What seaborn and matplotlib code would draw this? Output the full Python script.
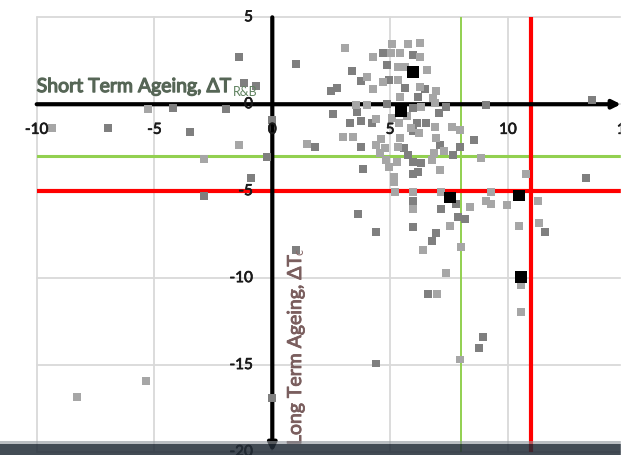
import matplotlib
matplotlib.use("Agg")
import matplotlib.pyplot as plt
import matplotlib.patheffects as pe
from matplotlib.patches import Rectangle
import pandas as pd
import seaborn as sns

# Ageing index pairs (x: short term, y: long term), grouped by marker class
dark_x = [-6.97, -4.21, -3.49, -1.96, -1.41, -1.20, -0.69, 0.0, 1.81, -0.22,
          -0.90, -2.90, 1.01, 0.0, 1.01, 2.49, 2.75, 2.58, 3.38, 3.76,
          4.70, 5.97, 4.87, 4.95, 5.63, 6.48, 6.18, 4.87, 7.37, 9.07,
          13.57, 3.59, 3.30, 3.76, 4.23, 6.14, 6.52, 5.97, 7.07, 5.97,
          3.76, 7.12, 8.56, 7.97, 5.59, 5.76, 3.85, 5.97, 5.97, 6.31,
          7.67, 6.18, 13.31, 7.80, 5.97, 7.16, 3.64, 7.88, 8.18, 11.57,
          4.40, 5.97, 6.95, 6.78, 6.61, 8.94, 8.77, 4.40]
dark_y = [-1.36, -0.21, -1.58, -0.27, 2.71, 1.22, 1.05, -0.90, -2.44, -3.01,
          -4.22, -5.25, -8.39, -16.92, 2.31, 0.76, 0.93, -0.55, 1.91, 1.33,
          2.93, 2.82, 2.25, 1.39, 0.93, 0.88, 0.42, 0.02, -0.15, -0.04,
          0.25, -0.44, -1.07, -0.96, -1.07, -1.07, -1.07, -1.53, -0.50, -0.21,
          -2.44, -2.33, -2.04, -2.44, -2.50, -2.90, -3.70, -3.30, -3.99, -3.36,
          -2.90, -3.87, -4.22, -5.76, -5.59, -6.05, -6.33, -6.50, -6.62, -7.36,
          -7.36, -7.08, -7.42, -7.88, -10.91, -13.37, -14.00, -14.91]

light_x = [-9.35, -5.28, -1.41, 1.47, -2.90, -8.29, -5.36, 3.09, 4.02, 4.27,
           5.08, 5.76, 6.27, 5.04, 5.42, 6.27, 5.34, 5.63, 6.57, 4.70,
           5.34, 4.27, 6.27, 6.95, 5.42, 6.82, 3.55, 4.02, 5.72, 6.31,
           6.91, 5.08, 4.40, 5.38, 5.89, 6.23, 6.91, 7.63, 7.97, 5.42,
           3.43, 2.99, 4.40, 4.61, 4.78, 5.34, 6.95, 7.29, 4.57, 4.83,
           5.29, 4.95, 6.87, 7.12, 6.78, 8.86, 10.77, 5.17, 5.17, 5.21,
           5.97, 7.16, 9.28, 11.28, 9.07, 9.28, 9.96, 8.39, 5.97, 7.54,
           10.47, 11.32, 6.40, 8.01, 7.37, 10.56, 6.99, 10.56, 7.97]
light_y = [-1.36, -0.27, -2.33, -2.27, -3.13, -16.86, -15.94, 3.22, 1.56, 2.71,
           3.45, 3.45, 3.51, 2.93, 2.93, 2.71, 2.13, 2.13, 1.96, 1.28,
           1.39, 0.88, 0.99, 0.76, 0.42, 0.36, -0.04, -0.04, -0.67, -0.15,
           0.07, -0.78, -0.85, -1.07, -1.36, -1.65, -1.30, -1.30, -1.47, -1.93,
           -1.87, -1.87, -2.33, -1.99, -2.50, -2.44, -1.93, -2.67, -2.79, -3.19,
           -3.30, -3.59, -2.79, -3.76, -3.19, -3.07, -4.04, -4.16, -4.50, -5.07,
           -5.02, -5.02, -5.02, -5.54, -5.54, -5.76, -5.82, -5.93, -6.05, -7.02,
           -7.02, -6.85, -8.39, -8.22, -9.71, -10.39, -10.91, -11.93, -14.68]

black_x = [5.97, 5.46, 7.54, 10.47, 10.56]
black_y = [1.85, -0.42, -5.36, -5.25, -9.94]

x_ticks = [-10, -5, 0, 5, 10, 15]
y_ticks = [5, 0, -5, -10, -15, -20]

# threshold lines
green_h, red_h = -3, -5
green_v, red_v = 8, 11

short_label, short_sub = "Short Term Ageing, ΔT", "R&B"
long_label, long_sub = "Long Term Ageing, ΔT", "c"

sns.set_style("white")
plt.rcParams["font.family"] = ["Lato", "DejaVu Sans"]

df = pd.concat([
    pd.DataFrame({"x": dark_x, "y": dark_y, "grp": "dark"}),
    pd.DataFrame({"x": light_x, "y": light_y, "grp": "light"}),
    pd.DataFrame({"x": black_x, "y": black_y, "grp": "black"}),
], ignore_index=True)

fig = plt.figure(figsize=(6.3, 4.56), dpi=100)
ax = fig.add_axes([36.7 / 630, 3 / 456, (625.7 - 36.7) / 630, (453 - 18.3) / 456])
ax.set_xlim(-10, 15)
ax.set_ylim(-20, 5)

for s in ax.spines.values():
    s.set_visible(False)
ax.set_xticks(x_ticks)
ax.set_yticks(y_ticks)
ax.tick_params(length=0, labelbottom=False, labelleft=False)
ax.grid(True, color="#d9d9d9", lw=1.3, zorder=0)
for gl in ax.get_xgridlines() + ax.get_ygridlines():
    gl.set_clip_on(False)
ax.set_axisbelow(True)

ax.axhline(green_h, color="#92d050", lw=2.2, zorder=2)
ax.axvline(green_v, color="#92d050", lw=1.4, zorder=2)
ax.axhline(red_h, color="#ff0000", lw=3.0, zorder=2.5)
ax.axvline(red_v, color="#ff0000", lw=3.0, zorder=2.5)

# central axes with arrowheads
ax.annotate("", xy=(14.8, 0), xytext=(-10, 0),
            arrowprops=dict(arrowstyle="-|>", lw=3, color="black",
                            mutation_scale=12, shrinkA=0, shrinkB=0),
            zorder=3, annotation_clip=False)
ax.annotate("", xy=(0, -20), xytext=(0, 5),
            arrowprops=dict(arrowstyle="-|>", lw=3, color="black",
                            mutation_scale=12, shrinkA=0, shrinkB=0),
            zorder=3, annotation_clip=False)

sns.scatterplot(data=df, x="x", y="y", hue="grp", size="grp",
                palette={"dark": "#7f7f7f", "light": "#a6a6a6", "black": "#000000"},
                sizes={"dark": 33, "light": 33, "black": 69},
                marker="s", linewidth=0, legend=False, ax=ax, zorder=4)
ax.set_xlabel("")
ax.set_ylabel("")

tick_fx = [pe.withStroke(linewidth=0.5, foreground="#1a1a1a")]
for v in x_ticks:
    ax.text(v, -1.47, f"{v}", ha="center", va="center", fontsize=11,
            color="#1a1a1a", zorder=5, clip_on=False, path_effects=tick_fx)
for v in y_ticks:
    ax.text(-0.82, v, f"{v}", ha="right", va="center", fontsize=11,
            color="#1a1a1a", zorder=5, clip_on=False, path_effects=tick_fx)

short_col, long_col = "#566656", "#7a5e5e"
t1 = ax.text(-10, 0.70, short_label, ha="left", va="baseline", fontsize=14,
             color=short_col, zorder=6,
             path_effects=[pe.withStroke(linewidth=0.9, foreground=short_col)])
ax.annotate(short_sub, xy=(1, 0), xycoords=t1, xytext=(0.5, 0.0),
            textcoords="offset points", ha="left", va="baseline",
            fontsize=9, color="#5f825f", zorder=6)

t2 = ax.text(1.22, -19.6, long_label, ha="left", va="baseline", rotation=90,
             rotation_mode="anchor", fontsize=14, color=long_col, zorder=6,
             path_effects=[pe.withStroke(linewidth=0.6, foreground=long_col)])
ax.annotate(long_sub, xy=(1, 1), xycoords=t2, xytext=(-0.5, 0.5),
            textcoords="offset points", ha="left", va="baseline",
            rotation=90, rotation_mode="anchor",
            fontsize=9, color="#8a6a6a", zorder=6)

# white margin on the right and dark strip along the bottom
fig.add_artist(Rectangle((621 / 630, 0), 9 / 630, 1, transform=fig.transFigure,
                         color="white", zorder=20))
fig.add_artist(Rectangle((0, 0), 621 / 630, 11 / 456, transform=fig.transFigure,
                         color="#222c37", alpha=0.85, zorder=19, lw=0))
fig.add_artist(Rectangle((0, 11 / 456), 621 / 630, 3 / 456, transform=fig.transFigure,
                         color="#8e959c", alpha=0.6, zorder=19, lw=0))

fig.savefig("out.png", dpi=100)
